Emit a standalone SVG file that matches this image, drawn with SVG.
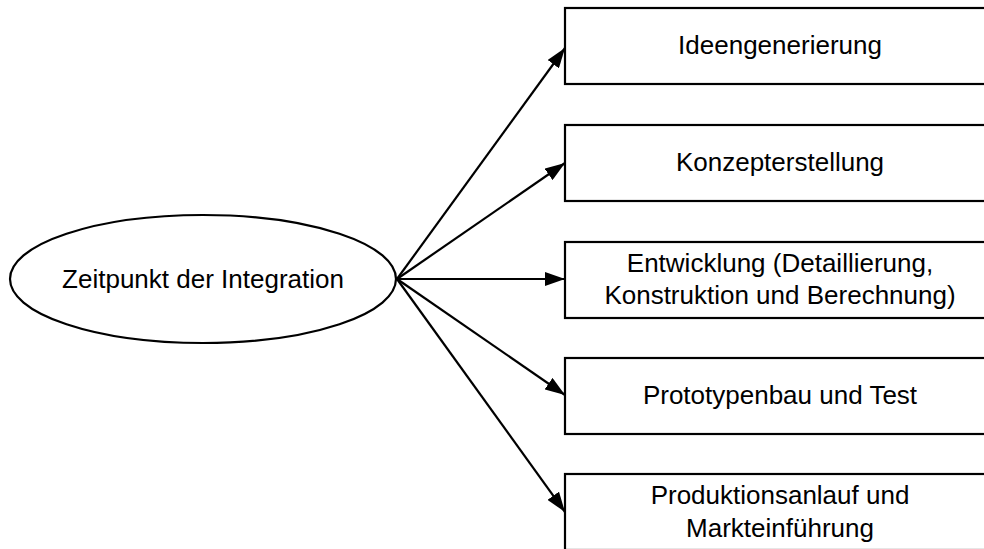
<svg xmlns="http://www.w3.org/2000/svg" width="984" height="549" viewBox="0 0 984 549">
  <style>
    .shape { fill: #ffffff; stroke: #000000; stroke-width: 2.2; }
    .label { font-family: "Liberation Sans", Arial, sans-serif; font-size: 26px; fill: #000000; text-anchor: middle; }
    .edge { fill: none; stroke: #000000; stroke-width: 2.2; marker-end: url(#arrow); }
  </style>
  <defs>
    <marker id="arrow" markerUnits="userSpaceOnUse" markerWidth="20" markerHeight="14" viewBox="0 0 20 14" refX="20" refY="7" orient="auto">
      <path d="M0,0 L20,7 L0,14 Z" fill="#000000"/>
    </marker>
  </defs>

  <g id="source">
    <ellipse class="shape" cx="203" cy="279" rx="193" ry="64"/>
    <text class="label" x="203" y="288">Zeitpunkt der Integration</text>
  </g>

  <g id="phase-ideas">
    <rect class="shape" x="565" y="8" width="430" height="76"/>
    <text class="label" x="780" y="54">Ideengenerierung</text>
  </g>

  <g id="phase-concept">
    <rect class="shape" x="565" y="125" width="430" height="76"/>
    <text class="label" x="780" y="171">Konzepterstellung</text>
  </g>

  <g id="phase-development">
    <rect class="shape" x="565" y="242" width="430" height="76"/>
    <text class="label" x="780" y="272">Entwicklung (Detaillierung,</text>
    <text class="label" x="780" y="304">Konstruktion und Berechnung)</text>
  </g>

  <g id="phase-prototype">
    <rect class="shape" x="565" y="358" width="430" height="76"/>
    <text class="label" x="780" y="404">Prototypenbau und Test</text>
  </g>

  <g id="phase-launch">
    <rect class="shape" x="565" y="474" width="430" height="76"/>
    <text class="label" x="780" y="504">Produktionsanlauf und</text>
    <text class="label" x="780" y="537">Markteinführung</text>
  </g>

  <g id="connectors">
    <line class="edge" x1="397" y1="279" x2="565" y2="48"/>
    <line class="edge" x1="397" y1="279" x2="565" y2="163"/>
    <line class="edge" x1="397" y1="279" x2="565" y2="279"/>
    <line class="edge" x1="397" y1="279" x2="565" y2="395"/>
    <line class="edge" x1="397" y1="279" x2="565" y2="512"/>
  </g>
</svg>
